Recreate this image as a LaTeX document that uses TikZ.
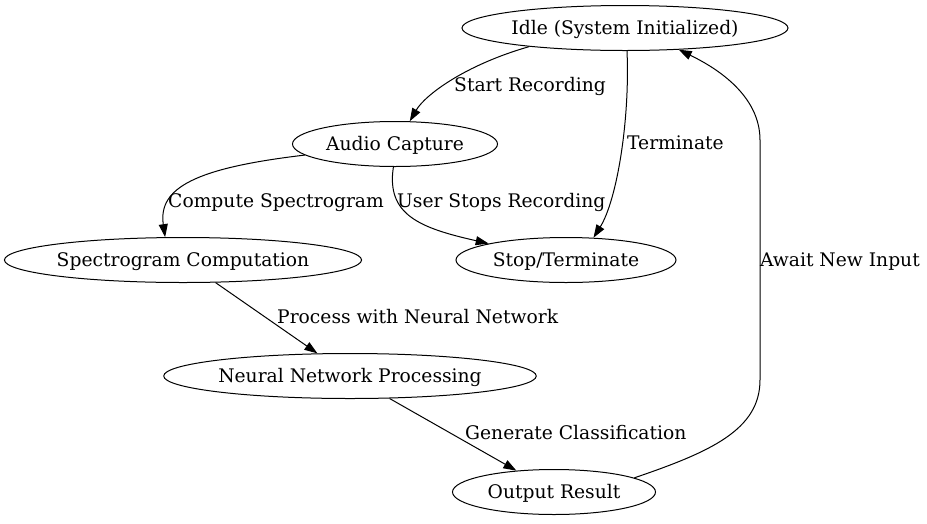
\documentclass[tikz,border=0pt]{standalone}
\usepackage{fontspec}
\setmainfont{DejaVu Serif}
\usetikzlibrary{arrows.meta,shapes.geometric}
\begin{document}
\begin{tikzpicture}[x=1pt, y=-1pt,
    state/.style={draw, ellipse, line width=1pt, inner sep=0pt, minimum height=45pt, text height=14.5pt, text depth=1.5pt, font=\fontsize{18.7}{22}\selectfont},
    arr/.style={-{Triangle[length=13pt, width=9pt]}, line width=1pt},
    lbl/.style={anchor=west, inner sep=0pt, text height=14.5pt, text depth=1.5pt, font=\fontsize{18.7}{22}\selectfont}]
  \useasboundingbox (0,0) rectangle (927,523);
  % states
  \node[state, minimum width=326pt] (idle) at (625,28) {Idle (System Initialized)};
  \node[state, minimum width=205pt] (audio) at (395,144) {Audio Capture};
  \node[state, minimum width=356pt] (spectro) at (183,260) {Spectrogram Computation};
  \node[state, minimum width=220pt] (stop) at (566,260) {Stop/Terminate};
  \node[state, minimum width=370pt] (neural) at (350,376) {Neural Network Processing};
  \node[state, minimum width=203pt] (output) at (554,492) {Output Result};

  % transitions
  \draw[arr] (idle.191) .. controls (465,65) and (425,95) .. (audio.57);
  \node[lbl] (lstart) at (454,85) {Start Recording};
  \draw[arr] (idle.275) .. controls (630,120) and (617,200) .. (stop.39);
  \node[lbl] (lterm) at (627,143) {Terminate};
  \draw[arr] (audio.187) .. controls (195,168) and (158,188) .. (spectro.128);
  \node[lbl] (lcomp) at (168,201) {Compute Spectrogram};
  \draw[arr] (audio.266) .. controls (386,215) and (420,228) .. (stop.168);
  \node[lbl] (luser) at (397,201) {User Stops Recording};
  \draw[arr] (spectro) -- (neural);
  \node[lbl] (lproc) at (277,317) {Process with Neural Network};
  \draw[arr] (neural) -- (output);
  \node[lbl] (lgen) at (465,433) {Generate Classification};

  % back to idle
  \draw[arr] (output.10) .. controls (710,452) and (760,430) .. (760,380)
    -- (760,140) .. controls (760,100) and (725,72) .. (idle.338);
  \node[lbl] (lawait) at (760,260) {Await New Input};
\end{tikzpicture}
\end{document}
